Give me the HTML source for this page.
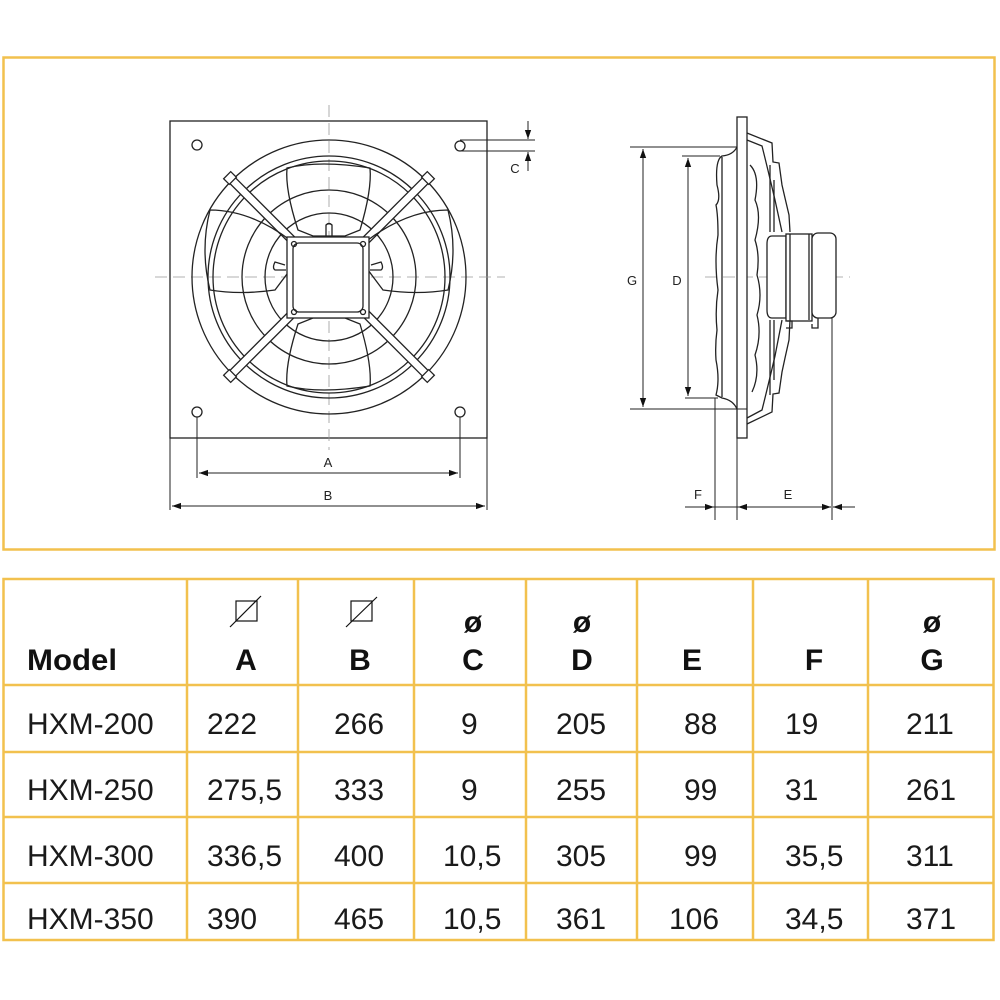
<!DOCTYPE html>
<html><head><meta charset="utf-8"><style>
html,body{margin:0;padding:0;background:#fff;width:1000px;height:1000px;overflow:hidden;font-family:"Liberation Sans",Arial,sans-serif}
svg{position:absolute;left:0;top:0}
</style></head><body>
<svg width="1000" height="1000" viewBox="0 0 1000 1000" xmlns="http://www.w3.org/2000/svg">
<defs>
<marker id="ar" viewBox="0 0 10 10" refX="10" refY="5" markerWidth="9" markerHeight="9" orient="auto-start-reverse" markerUnits="userSpaceOnUse"><path d="M0,1.5 L10,5 L0,8.5 z" fill="#111"/></marker>
</defs>
<rect x="3.5" y="57.5" width="991" height="492" fill="none" stroke="#f2c14e" stroke-width="2.5"/>

<g fill="none" stroke="#222" stroke-width="1.3">
<rect x="170" y="121" width="317" height="317"/>
<line x1="155" y1="277" x2="505" y2="277" stroke="#999" stroke-width="0.8" stroke-dasharray="12,6"/>
<line x1="329" y1="105" x2="329" y2="450" stroke="#999" stroke-width="0.8" stroke-dasharray="12,6"/>
<circle cx="197" cy="145" r="5"/><circle cx="460" cy="146" r="5"/>
<circle cx="197" cy="412" r="5"/><circle cx="460" cy="412" r="5"/>
<circle cx="329" cy="277" r="137"/>
<circle cx="329" cy="277" r="121"/>
<circle cx="329" cy="277" r="116"/>
<circle cx="329" cy="277" r="87"/>
<circle cx="329" cy="277" r="64"/>
<g transform="rotate(45 329 277)">
<rect x="190" y="273" width="278" height="8" fill="#fff"/>
<rect x="325" y="138" width="8" height="278" fill="#fff"/>
<rect x="185" y="272" width="8" height="10" fill="#fff"/>
<rect x="465" y="272" width="8" height="10" fill="#fff"/>
<rect x="324" y="133" width="10" height="8" fill="#fff"/>
<rect x="324" y="413" width="10" height="8" fill="#fff"/>
</g>
<path d="M287,168 Q320,160 370,168 Q372,190 360,230 L345,236 L313,236 L298,230 Q285,190 287,168z" fill="none"/>
<path d="M287,386 Q320,394 370,386 Q372,364 360,324 L345,318 L313,318 L298,324 Q285,364 287,386z" fill="none"/>
<path d="M210,210 Q200,250 210,290 Q240,295 275,290 L290,270 L290,240 Q250,210 210,210z"/>
<path d="M448,210 Q458,250 448,290 Q418,295 383,290 L368,270 L368,240 Q408,210 448,210z"/>
<rect x="287" y="237" width="82" height="81" fill="#fff"/>
<rect x="293" y="243" width="70" height="69" rx="6" fill="#fff"/>
<circle cx="294" cy="244" r="2.5"/><circle cx="363" cy="244" r="2.5"/>
<circle cx="294" cy="312" r="2.5"/><circle cx="363" cy="312" r="2.5"/>
<path d="M326,236 L326,225 Q329,222 332,225 L332,236"/>
<path d="M285,265 L275,262 Q272,268 275,270 L286,270"/>
<path d="M371,265 L381,262 Q384,268 381,270 L370,270"/>
<line x1="197" y1="417" x2="197" y2="478" stroke-width="1"/>
<line x1="460" y1="417" x2="460" y2="478" stroke-width="1"/>
<line x1="170" y1="438" x2="170" y2="510" stroke-width="1"/>
<line x1="487" y1="438" x2="487" y2="510" stroke-width="1"/>
<line x1="199" y1="473" x2="458" y2="473" stroke-width="1" marker-start="url(#ar)" marker-end="url(#ar)"/>
<line x1="172" y1="506" x2="485" y2="506" stroke-width="1" marker-start="url(#ar)" marker-end="url(#ar)"/>
<line x1="460" y1="140" x2="535" y2="140" stroke-width="1"/>
<line x1="460" y1="151" x2="535" y2="151" stroke-width="1"/>
<line x1="528" y1="121" x2="528" y2="139" stroke-width="1" marker-end="url(#ar)"/>
<line x1="528" y1="171" x2="528" y2="152" stroke-width="1" marker-end="url(#ar)"/>

<line x1="705" y1="277" x2="850" y2="277" stroke="#999" stroke-width="0.8" stroke-dasharray="12,6"/>
<rect x="737" y="117" width="10" height="321" fill="#fff"/>
<line x1="630" y1="147" x2="737" y2="147" stroke-width="1"/>
<line x1="630" y1="409" x2="747" y2="409" stroke-width="1"/>
<line x1="682" y1="156" x2="720" y2="156" stroke-width="1"/>
<line x1="685" y1="398" x2="718" y2="398" stroke-width="1"/>
<line x1="643" y1="149" x2="643" y2="407" stroke-width="1" marker-start="url(#ar)" marker-end="url(#ar)"/>
<line x1="688" y1="158" x2="688" y2="396" stroke-width="1" marker-start="url(#ar)" marker-end="url(#ar)"/>
<path d="M737,147 Q733,155 722,156 Q715,160 717,185 Q721,200 716,205 Q718,215 718,235 Q714,260 718,290 Q715,310 717,330 Q715,345 716,360 Q720,380 716,395 L722,398 Q733,400 737,409"/>
<line x1="722" y1="157" x2="722" y2="397"/>
<path d="M747,133 L772,143 L773,162 L779,163 L782,185 L785,198 L789,215 L790,232"/>
<path d="M747,424 L772,412 L773,394 L779,393 L782,372 L785,358 L789,340 L790,320"/>
<path d="M747,140 L762,146 Q768,170 775,200 L782,232"/>
<path d="M747,418 L762,410 Q768,386 775,356 L782,320"/>
<line x1="770" y1="165" x2="770" y2="232"/><line x1="774" y1="180" x2="774" y2="232"/>
<line x1="770" y1="320" x2="770" y2="395"/><line x1="774" y1="320" x2="774" y2="380"/>
<path d="M750,165 Q760,175 755,200 Q762,215 755,240 Q760,255 757,275 Q763,295 757,315 Q762,335 755,355 Q760,375 752,392"/>
<path d="M772,236 Q767,236 767,244 L767,310 Q767,318 772,318 L786,318 L786,236z" fill="#fff"/>
<rect x="786" y="234" width="26" height="87" fill="#fff"/>
<line x1="790" y1="234" x2="790" y2="321"/>
<rect x="812" y="233" width="24" height="85" rx="6" fill="#fff"/>
<line x1="809" y1="234" x2="809" y2="320"/>
<path d="M787,321 L792,321 L792,328 L786,328"/>
<path d="M818,318 L818,328 L812,328 L812,324"/>
<line x1="715" y1="398" x2="715" y2="520" stroke-width="1"/>
<line x1="737" y1="438" x2="737" y2="520" stroke-width="1"/>
<line x1="832" y1="318" x2="832" y2="520" stroke-width="1"/>
<line x1="685" y1="507" x2="714" y2="507" stroke-width="1" marker-end="url(#ar)"/>
<line x1="714" y1="507" x2="738" y2="507" stroke-width="1"/>
<line x1="738" y1="507" x2="831" y2="507" stroke-width="1" marker-start="url(#ar)" marker-end="url(#ar)"/>
<line x1="855" y1="507" x2="833" y2="507" stroke-width="1" marker-end="url(#ar)"/>
</g>
<g font-size="13" fill="#222" text-anchor="middle">
<text x="328" y="467">A</text><text x="328" y="500">B</text>
<text x="515" y="173">C</text>
<text x="632" y="285">G</text><text x="677" y="285">D</text>
<text x="698" y="499">F</text><text x="788" y="499">E</text>
</g>

<g stroke="#f2c14e" stroke-width="2.5" fill="none">
<rect x="3.5" y="579" width="990" height="361"/>
<line x1="3" y1="685" x2="994" y2="685"/>
<line x1="3" y1="752" x2="994" y2="752"/>
<line x1="3" y1="817" x2="994" y2="817"/>
<line x1="3" y1="883" x2="994" y2="883"/>
<line x1="187" y1="579" x2="187" y2="940"/>
<line x1="298" y1="579" x2="298" y2="940"/>
<line x1="414" y1="579" x2="414" y2="940"/>
<line x1="526" y1="579" x2="526" y2="940"/>
<line x1="637" y1="579" x2="637" y2="940"/>
<line x1="753" y1="579" x2="753" y2="940"/>
<line x1="868" y1="579" x2="868" y2="940"/>
</g>
<g stroke="#111" stroke-width="1.2" fill="none">
<rect x="236" y="601" width="21" height="20"/><line x1="230" y1="627" x2="261" y2="596"/>
<rect x="351" y="601" width="21" height="20"/><line x1="346" y1="627" x2="377" y2="597"/>
</g>
<g font-size="30" font-weight="bold" fill="#111" text-anchor="middle">
<text x="27" y="670" text-anchor="start" textLength="90" lengthAdjust="spacingAndGlyphs">Model</text>
<text x="246" y="670">A</text><text x="360" y="670">B</text>
<text x="473" y="632">ø</text><text x="473" y="670">C</text>
<text x="582" y="632">ø</text><text x="582" y="670">D</text>
<text x="692" y="670">E</text><text x="814" y="670">F</text>
<text x="932" y="632">ø</text><text x="932" y="670">G</text>
</g>
<g font-size="30" fill="#1a1a1a">
<g transform="translate(0,734)"><text x="27">HXM-200</text><text x="207">222</text><text x="334">266</text><text x="461">9</text><text x="556">205</text><text x="684">88</text><text x="785">19</text><text x="906">211</text></g>
<g transform="translate(0,800)"><text x="27">HXM-250</text><text x="207">275,5</text><text x="334">333</text><text x="461">9</text><text x="556">255</text><text x="684">99</text><text x="785">31</text><text x="906">261</text></g>
<g transform="translate(0,866)"><text x="27">HXM-300</text><text x="207">336,5</text><text x="334">400</text><text x="443">10,5</text><text x="556">305</text><text x="684">99</text><text x="785">35,5</text><text x="906">311</text></g>
<g transform="translate(0,929)"><text x="27">HXM-350</text><text x="207">390</text><text x="334">465</text><text x="443">10,5</text><text x="556">361</text><text x="669">106</text><text x="785">34,5</text><text x="906">371</text></g>
</g>
</svg>
</body></html>
